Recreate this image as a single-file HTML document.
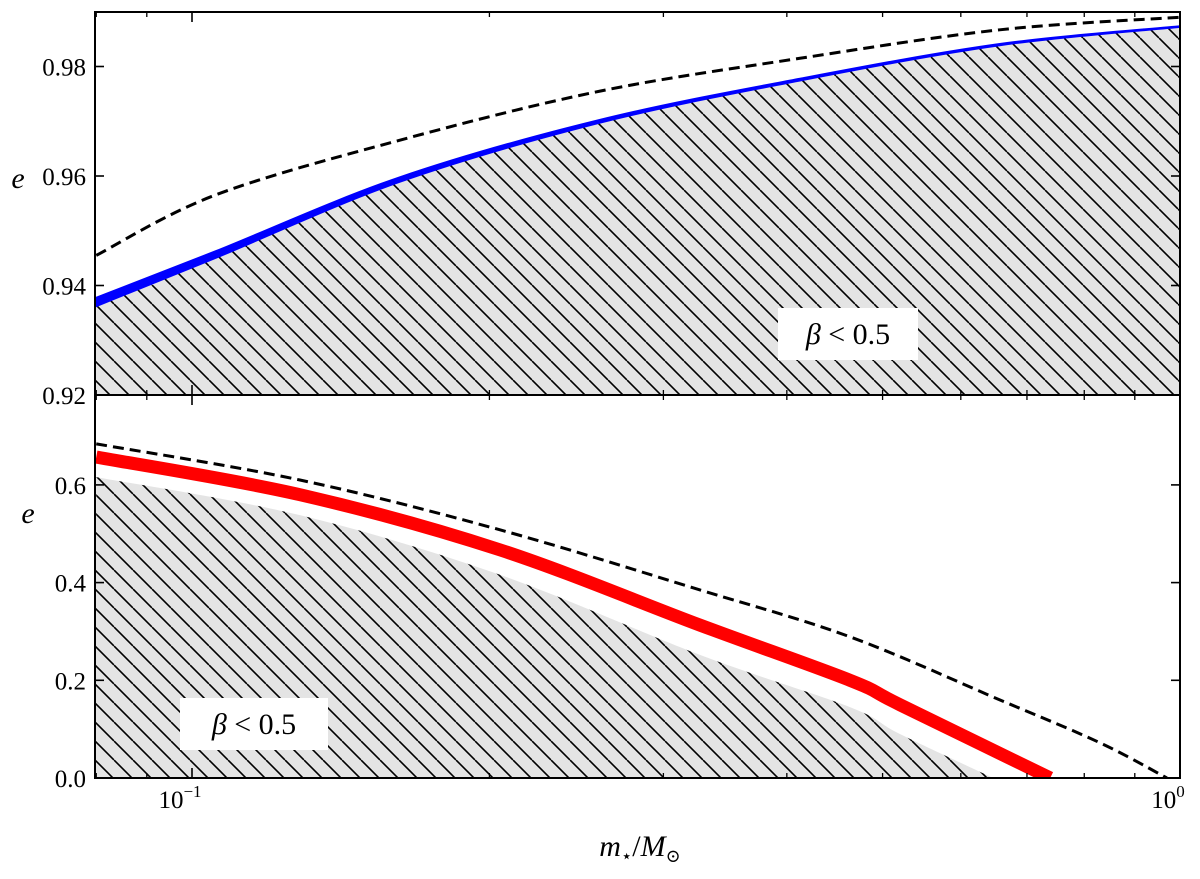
<!DOCTYPE html>
<html><head><meta charset="utf-8"><style>
body{margin:0;background:#fff}
svg{display:block;font-family:"Liberation Serif","DejaVu Serif",serif}
</style></head><body>
<svg id="c" width="1200" height="879">
<defs>
<pattern id="hatch" patternUnits="userSpaceOnUse" width="19" height="19">
<rect width="19" height="19" fill="#e4e4e4"/>
<path d="M0,0 L19,19 M-19,0 L0,19 M0,-19 L19,0" stroke="#000" stroke-width="1.6"/>
</pattern>
</defs>
</svg>
<script>
// data
const massTicks=[0.1,1];
const minorTicks=[0.08,0.09,0.2,0.3,0.4,0.5,0.6,0.7,0.8,0.9];
const topTicks=[0.92,0.94,0.96,0.98];
const botTicks=[0.0,0.2,0.4,0.6];
const topMass=[0.08,0.1055,0.162,0.2588,0.4124,0.657,1.0];
const topDashed=[0.9455,0.9565,0.9665,0.9755,0.9815,0.9867,0.989];
const topBlue=[0.937,0.9456,0.9593,0.970,0.9776,0.984,0.9873];
const topBlueWidth=[0.0017,0.0014,0.0010,0.0007,0.0005,0.0004,0.0003];
const botMassD=[0.08,0.1286,0.205,0.3267,0.4634,0.657,0.83,0.97];
const botDashed=[0.684,0.61,0.508,0.385,0.289,0.16,0.072,0.0];
const botMassR=[0.08,0.1286,0.205,0.3267,0.4634,0.5206,0.739];
const botRed=[0.657,0.58,0.467,0.313,0.2,0.15,0.0];
const botMassH=[0.08,0.1286,0.205,0.3267,0.4634,0.5206,0.647];
const botHatch=[0.616,0.538,0.416,0.252,0.145,0.09,0.0];

const NS='http://www.w3.org/2000/svg';
const svg=document.getElementById('c');
const L=95,R=1180;
const X=m=>192+988*(Math.log10(m)+1);
const YT=v=>395-(v-0.92)*5475;
const YB=v=>778-v*488.5;
function el(t,a,parent){const e=document.createElementNS(NS,t);for(const k in a)e.setAttribute(k,a[k]);(parent||svg).appendChild(e);return e;}
function pts(xs,ys,Y){return xs.map((m,i)=>X(m).toFixed(1)+','+Y(ys[i]).toFixed(1));}
// smooth via catmull-rom
function smooth(xs,ys,Y){const p=xs.map((m,i)=>[X(m),Y(ys[i])]);let d='M'+p[0][0]+','+p[0][1];
for(let i=0;i<p.length-1;i++){const p0=p[i-1]||p[i],p1=p[i],p2=p[i+1],p3=p[i+2]||p2;
d+=` C${p1[0]+(p2[0]-p0[0])/6},${p1[1]+(p2[1]-p0[1])/6} ${p2[0]-(p3[0]-p1[0])/6},${p2[1]-(p3[1]-p1[1])/6} ${p2[0]},${p2[1]}`;}return d;}

// ---- top panel
const gT=el('g',{'clip-path':'url(#ct)'});


el('clipPath',{id:'ct'}).appendChild(Object.assign(document.createElementNS(NS,'rect'),{})).setAttribute('x',L);
document.querySelector('#ct rect').setAttribute('y',12);document.querySelector('#ct rect').setAttribute('width',R-L);document.querySelector('#ct rect').setAttribute('height',383);
const lowT=topBlue.map((v,i)=>v-topBlueWidth[i]/2), upT=topBlue.map((v,i)=>v+topBlueWidth[i]/2);
let h=el('path',{d:smooth(topMass,lowT,YT)+` L${R},395 L${L},395 Z`,fill:'url(#hatch)'},gT);

let bd=smooth(topMass,upT,YT);
const lp=topMass.map((m,i)=>[m,lowT[i]]).reverse();
let band=el('path',{d:bd+' L'+smooth(lp.map(a=>a[0]),lp.map(a=>a[1]),YT).slice(1)+' Z',fill:'#0000ff',stroke:'#0000ff','stroke-width':1},gT);

let dt=el('path',{d:smooth(topMass,topDashed,YT),fill:'none',stroke:'#000','stroke-width':3,'stroke-dasharray':'11,6'},gT);


// ---- bottom panel
const gB=el('g',{'clip-path':'url(#cb)'});


const cb=el('clipPath',{id:'cb'});el('rect',{x:L,y:395,width:R-L,height:383},cb);
h=el('path',{d:smooth(botMassH,botHatch,YB)+` L${X(botMassH[botMassH.length-1])},778 L${L},778 Z`,fill:'url(#hatch)'},gB);

let rd=el('path',{d:smooth(botMassR,botRed,YB),fill:'none',stroke:'#ff0000','stroke-width':13},gB);

let db=el('path',{d:smooth(botMassD,botDashed,YB),fill:'none',stroke:'#000','stroke-width':3,'stroke-dasharray':'11,6'},gB);


// ---- frames & ticks
[[12,395],[395,778]].forEach(([t,b],pi)=>{
  const f=el('rect',{x:L,y:t,width:R-L,height:b-t,fill:'none',stroke:'#000','stroke-width':2});
  
  minorTicks.forEach(m=>{el('line',{x1:X(m),x2:X(m),y1:b,y2:b-5,stroke:'#000','stroke-width':1.3});el('line',{x1:X(m),x2:X(m),y1:t,y2:t+5,stroke:'#000','stroke-width':1.3});});
  massTicks.forEach(m=>{el('line',{x1:X(m),x2:X(m),y1:b,y2:b-10,stroke:'#000','stroke-width':1.6});el('line',{x1:X(m),x2:X(m),y1:t,y2:t+10,stroke:'#000','stroke-width':1.6});});
  const ticks=pi?botTicks:topTicks, Y=pi?YB:YT;
  ticks.forEach(v=>{const y=Y(v);
    el('line',{x1:L,x2:L+9,y1:y,y2:y,stroke:'#000','stroke-width':1.6});
    el('line',{x1:R,x2:R-9,y1:y,y2:y,stroke:'#000','stroke-width':1.6});
    const tx=el('text',{x:L-9,y:y+9,'text-anchor':'end','font-size':25});
    tx.textContent=pi?v.toFixed(1):v.toFixed(2);
    
  });
});
massTicks.forEach((m,i)=>{const t=el('text',{x:X(m)-12,y:808,'text-anchor':'middle','font-size':25});
t.innerHTML='10<tspan dy="-11" font-size="17">'+(i?'0':'−1')+'</tspan>';
});
</script>
<svg width="0" height="0"></svg>
<div style="position:absolute;left:0;top:0;width:1200px;height:879px;pointer-events:none">
<svg width="1200" height="879" style="position:absolute;left:0;top:0">
<g><rect x="778" y="308" width="140" height="52" fill="#fff"/><text x="848" y="344" text-anchor="middle" font-size="30" font-family="Liberation Serif,serif"><tspan font-style="italic">β</tspan> &lt; 0.5</text></g>
<g><rect x="180" y="698" width="148" height="52" fill="#fff"/><text x="254" y="734" text-anchor="middle" font-size="30" font-family="Liberation Serif,serif"><tspan font-style="italic">β</tspan> &lt; 0.5</text></g>
<text x="18" y="188" font-size="30" font-style="italic" font-family="Liberation Serif,serif" text-anchor="middle">e</text>
<text x="28" y="523" font-size="30" font-style="italic" font-family="Liberation Serif,serif" text-anchor="middle">e</text>
<text x="640" y="856" font-size="30" font-family="Liberation Serif,DejaVu Serif,serif" text-anchor="middle"><tspan font-style="italic">m</tspan><tspan font-size="18" dy="6">⋆</tspan><tspan dy="-6">/</tspan><tspan font-style="italic">M</tspan><tspan font-size="18" dy="6">⊙</tspan></text>
</svg></div>
</body></html>
